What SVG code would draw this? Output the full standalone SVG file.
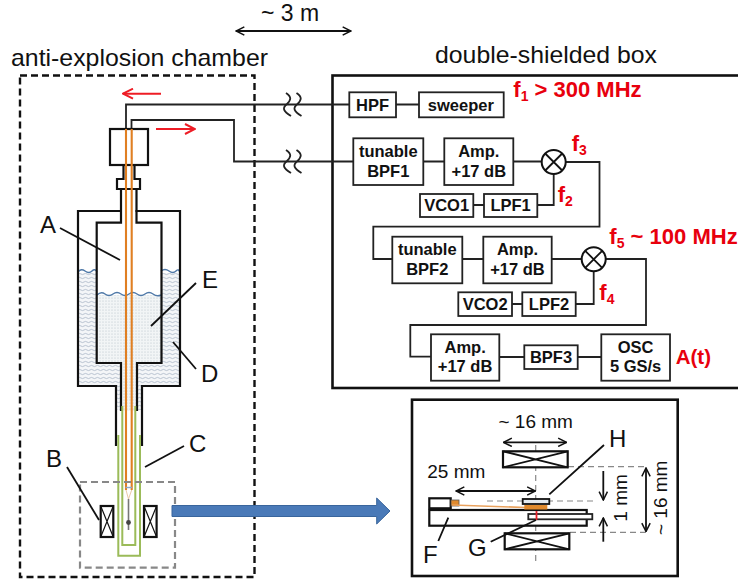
<svg xmlns="http://www.w3.org/2000/svg" width="738" height="582" viewBox="0 0 738 582">
<style>
text{font-family:"Liberation Sans",Arial,sans-serif;fill:#111}
.lb{font-size:24px}
.dim{font-size:19px}
.bk{font-size:16.5px;font-weight:bold;text-anchor:middle}
.rd{font-size:22px;font-weight:bold;fill:#e8000d}
.rd tspan{fill:#e8000d}
.box{fill:#fff;stroke:#222;stroke-width:1.8}
.w{fill:none;stroke:#222;stroke-width:1.8}
.t{fill:none;stroke:#111;stroke-width:2.2}
.v{fill:#fff;stroke:#111;stroke-width:2.2}
.l{fill:none;stroke:#111;stroke-width:1.8}
.g{fill:none;stroke:#9bbb59;stroke-width:2}
.o{fill:none;stroke:#e07f22;stroke-width:2.1}
.dg{fill:none;stroke:#888;stroke-width:1.2;stroke-dasharray:6 4}
.r{fill:none;stroke:#ee1c25;stroke-width:2}
.a{fill:none;stroke:#111;stroke-width:1.8;marker-start:url(#ah);marker-end:url(#ah)}
.c{fill:#fff;stroke:#111;stroke-width:2}
</style>
<defs>
<marker id="ah" viewBox="0 0 12 12" refX="11" refY="6" markerWidth="10" markerHeight="10" markerUnits="userSpaceOnUse" orient="auto-start-reverse"><path d="M1 1L11 6L1 11" fill="none" stroke="#111" stroke-width="1.8"/></marker>
<marker id="rh" viewBox="0 0 12 12" refX="11" refY="6" markerWidth="12" markerHeight="12" markerUnits="userSpaceOnUse" orient="auto"><path d="M1 1L11 6L1 11" fill="none" stroke="#ee1c25" stroke-width="2"/></marker>
<pattern id="hatch" width="6" height="4" patternUnits="userSpaceOnUse"><rect width="6" height="4" fill="#f4f6f8"/><path d="M0 2Q1.5 0.8 3 2T6 2" fill="none" stroke="#a9b6c6" stroke-width="0.8"/></pattern>
<pattern id="dots" width="3" height="3" patternUnits="userSpaceOnUse"><rect width="3" height="3" fill="#f2f5f6"/><circle cx="1" cy="1" r="0.55" fill="#b4bec6"/></pattern>
</defs>

<g id="labels-top">
<text x="261" y="21" font-size="23">~ 3 m</text>
<text class="lb" x="11" y="66" textLength="257" lengthAdjust="spacingAndGlyphs">anti-explosion chamber</text>
<text class="lb" x="435" y="63" textLength="222" lengthAdjust="spacingAndGlyphs">double-shielded box</text>
<path class="a" d="M236 31H351"/>
</g>

<g id="chamber"><rect x="20" y="75.5" width="234.5" height="501.5" fill="none" stroke="#111" stroke-width="2.4" stroke-dasharray="7 4"/></g>
<g id="shielded-box"><rect x="332.500" y="75.500" width="420" height="312.500" fill="none" stroke="#111" stroke-width="2.600"/></g>

<g id="connectors">
<path class="w" d="M126 129V104.500H349"/>
<path class="w" d="M131.500 129V120H234V161.500H353"/>
<path class="w" d="M396 104.500H419M423 161.500H444M513 161.500H542M565.500 162H599.500V226.700H373.300V259H392M462 259H483M551.700 259H582M605.500 259H646V325H410.300V356.700H431M499 357H524M577.700 357H601M473.300 205H484M537.300 205H553.700V174M512 304H522.300M575.700 304H593.700V271"/>
<path class="w" d="M286 93C292 97 291 100 287 104C282 108 283 111 291 116M296.500 93C302.500 97 301.500 100 297.500 104C292.500 108 293.500 111 301.500 116M286 150C292 154 291 157 287 161C282 165 283 168 291 173M296.500 150C302.500 154 301.500 157 297.500 161C292.500 165 293.500 168 301.500 173"/>
<path class="r" marker-end="url(#rh)" d="M161 93.700H123"/>
<path class="r" marker-end="url(#rh)" d="M156 129H195"/>
</g>

<g id="cryostat">
<path fill="url(#hatch)" d="M78 273H97V363H121V386H137V363H161V273H180V386H142V410H116V386H78Z"/>
<path fill="url(#dots)" d="M97 295H161V363H137V411H121V363H97Z"/>
<path d="M78 272Q81 268 85 271T92 271T97 272M161 271Q165 268 169 271T176 271T180 273" fill="none" stroke="#4f79a8" stroke-width="1.400"/>
<path d="M97 295Q101 291 105 294T113 294T121 294T129 294T137 294T145 294T153 294T161 295" fill="none" stroke="#4f79a8" stroke-width="1.400"/>
<path class="t" d="M122 211H78V386H116V446M135.500 211H180V386H142V446"/>
<path class="t" d="M121 189V222.700H96.700V363H121V411M136.500 189V222.700H161.500V363H137V411"/>
<path class="t" d="M123.500 165V179H117V189H140V179H134.500V165"/>
<rect class="v" x="110" y="129" width="38" height="36"/>
<path class="g" d="M122.300 406V545H135.300V406M118.300 435V555.700H140V435"/>
<path class="o" d="M126 129V490M131.700 129V490"/>
<path d="M126 490L128.500 499L131.700 490" fill="none" stroke="#e9c9a8" stroke-width="1"/>
<path d="M125.500 487.500H132" stroke="#8fa8c8" stroke-width="1.400"/>
<path d="M128.500 499V530" stroke="#777" stroke-width="1.600"/>
<circle cx="128.500" cy="522.500" r="2.400" fill="#444"/>
</g>
<g id="coil-left"><rect x="100.700" y="506" width="12.600" height="31" fill="#fff" stroke="#111" stroke-width="2.200"/><path d="M100.700 506L113.300 537M113.300 506L100.700 537" stroke="#111" stroke-width="1.200"/></g>
<g id="coil-right"><rect x="144" y="506" width="12.600" height="31" fill="#fff" stroke="#111" stroke-width="2.200"/><path d="M144 506L156.600 537M156.600 506L144 537" stroke="#111" stroke-width="1.200"/></g>
<g id="detail-frame"><rect x="80" y="482" width="95" height="85.700" fill="none" stroke="#888" stroke-width="2.200" stroke-dasharray="7 4"/></g>
<g id="blue-arrow"><path d="M172 505.500H376.700V498L390 511L376.700 524V516.500H172Z" fill="#4a7ab8" stroke="#39659c" stroke-width="1"/></g>

<g id="label-A"><path class="l" d="M60 228L120 260"/><text class="lb" x="40" y="233">A</text></g>
<g id="label-E"><path class="l" d="M196 283L151 326"/><text class="lb" x="202" y="288">E</text></g>
<g id="label-D"><path class="l" d="M173 342L196 369"/><text class="lb" x="201" y="382">D</text></g>
<g id="label-C"><path class="l" d="M184 446L145 467"/><text class="lb" x="189" y="452">C</text></g>
<g id="label-B"><path class="l" d="M67 467L99 520"/><text class="lb" x="46" y="467">B</text></g>

<g id="HPF"><rect class="box" x="349.300" y="92.300" width="46.700" height="25"/><text class="bk" x="372.600" y="110.700">HPF</text></g>
<g id="sweeper"><rect class="box" x="419" y="92.300" width="84.700" height="25"/><text class="bk" x="460.800" y="110.700">sweeper</text></g>
<g id="BPF1"><rect class="box" x="353.300" y="138.300" width="70" height="46.700"/><text class="bk" x="388.300" y="157.300">tunable</text><text class="bk" x="388.300" y="176.700">BPF1</text></g>
<g id="Amp1"><rect class="box" x="444.300" y="138.300" width="69" height="46.700"/><text class="bk" x="478.800" y="157.300">Amp.</text><text class="bk" x="478.800" y="176.700">+17 dB</text></g>
<g id="mixer1"><circle class="c" cx="553.700" cy="162" r="12"/><path class="l" d="M545.200 153.500L562.200 170.500M562.200 153.500L545.200 170.500"/></g>
<g id="VCO1"><rect class="box" x="420" y="194" width="53.300" height="23"/><text class="bk" x="446.600" y="210.700">VCO1</text></g>
<g id="LPF1"><rect class="box" x="484" y="194" width="53.300" height="23"/><text class="bk" x="510.600" y="210.700">LPF1</text></g>
<g id="BPF2"><rect class="box" x="392.300" y="236.700" width="70" height="46.600"/><text class="bk" x="427.300" y="255">tunable</text><text class="bk" x="427.300" y="275">BPF2</text></g>
<g id="Amp2"><rect class="box" x="483.300" y="236.700" width="68.400" height="46.600"/><text class="bk" x="517.500" y="255">Amp.</text><text class="bk" x="517.500" y="275">+17 dB</text></g>
<g id="mixer2"><circle class="c" cx="593.700" cy="259.300" r="12"/><path class="l" d="M585.200 250.800L602.200 267.800M602.200 250.800L585.200 267.800"/></g>
<g id="VCO2"><rect class="box" x="458.300" y="292.300" width="53.700" height="23.700"/><text class="bk" x="485.100" y="310">VCO2</text></g>
<g id="LPF2"><rect class="box" x="522.300" y="292.300" width="53.400" height="23.700"/><text class="bk" x="549" y="310">LPF2</text></g>
<g id="Amp3"><rect class="box" x="431" y="334.300" width="68.300" height="46.400"/><text class="bk" x="465.100" y="353.300">Amp.</text><text class="bk" x="465.100" y="372.300">+17 dB</text></g>
<g id="BPF3"><rect class="box" x="524.300" y="345.300" width="53.400" height="23.700"/><text class="bk" x="551" y="362.700">BPF3</text></g>
<g id="OSC"><rect class="box" x="601.300" y="334.300" width="68.700" height="46.400"/><text class="bk" x="635.600" y="353.300">OSC</text><text class="bk" x="635.600" y="372.300">5 GS/s</text></g>

<g id="red-labels">
<text class="rd" x="513.300" y="96.700">f<tspan font-size="14" dy="4">1</tspan><tspan dy="-4"> &gt; 300 MHz</tspan></text>
<text class="rd" x="571.700" y="151">f<tspan font-size="14" dy="4">3</tspan></text>
<text class="rd" x="557.700" y="201.700">f<tspan font-size="14" dy="4">2</tspan></text>
<text class="rd" x="609.300" y="244" textLength="128.500" lengthAdjust="spacingAndGlyphs">f<tspan font-size="14" dy="4">5</tspan><tspan dy="-4"> ~ 100 MHz</tspan></text>
<text class="rd" x="599.300" y="300">f<tspan font-size="14" dy="4">4</tspan></text>
<text class="rd" x="675.700" y="364.300" font-size="20" style="font-size:20.500px">A(t)</text>
</g>

<g id="inset">
<rect x="412" y="399.700" width="265.700" height="176.300" fill="#fff" stroke="#111" stroke-width="2.600"/>
<path class="dg" d="M535.700 445V562"/>
<path class="dg" d="M568 466.700H646.700M570 532.300H646.700M487 501H597"/>
<path class="a" d="M503.500 442.300H566.500"/>
<path class="a" d="M456 491H535.500"/>
<path class="a" d="M646 468V531.500"/>
<path class="l" marker-end="url(#ah)" d="M603.300 471V500"/>
<path class="l" marker-end="url(#ah)" d="M603.300 541.700V518"/>
<g id="coil-top"><rect class="v" x="503" y="451.300" width="64.700" height="16"/><path class="l" stroke-width="1.200" d="M503 451.300L567.700 467.300M567.700 451.300L503 467.300"/></g>
<g id="coil-bottom"><rect class="v" x="504.700" y="533.300" width="64.600" height="16"/><path class="l" stroke-width="1.200" d="M504.700 533.300L569.300 549.300M569.300 533.300L504.700 549.300"/></g>
<g id="holder-F"><rect class="v" x="429.300" y="510" width="157.400" height="15.700"/><rect class="box" x="528.300" y="514" width="64" height="5.300"/></g>
<rect class="v" x="429.300" y="498.300" width="21.400" height="10"/>
<rect x="451" y="500" width="8" height="6" fill="#e08a2e" stroke="#555" stroke-width="0.800"/>
<path d="M452 505L526 507.500" stroke="#e9a25e" stroke-width="1.600"/>
<rect x="524.300" y="505" width="23" height="4.500" fill="#e08a2e"/>
<rect x="522.700" y="499" width="26.600" height="5" fill="#e4eaf0" stroke="#111" stroke-width="1.800"/>
<path d="M536.500 511V520" stroke="#e8202a" stroke-width="1.800"/>
<path class="l" d="M604 445L549.300 494.300M490.700 541.700L536 520M448.300 517.700L438.300 541"/>
<text class="dim" x="535.700" y="428.300" text-anchor="middle">~ 16 mm</text>
<text class="dim" x="427.300" y="477.700">25 mm</text>
<text class="dim" transform="translate(626.700 521.700) rotate(-90)">1 mm</text>
<text class="dim" transform="translate(667.300 535) rotate(-90)">~ 16 mm</text>
<text class="lb" x="609" y="446.700">H</text>
<text class="lb" x="468" y="555.700">G</text>
<text class="lb" x="423" y="563">F</text>
</g>
</svg>
